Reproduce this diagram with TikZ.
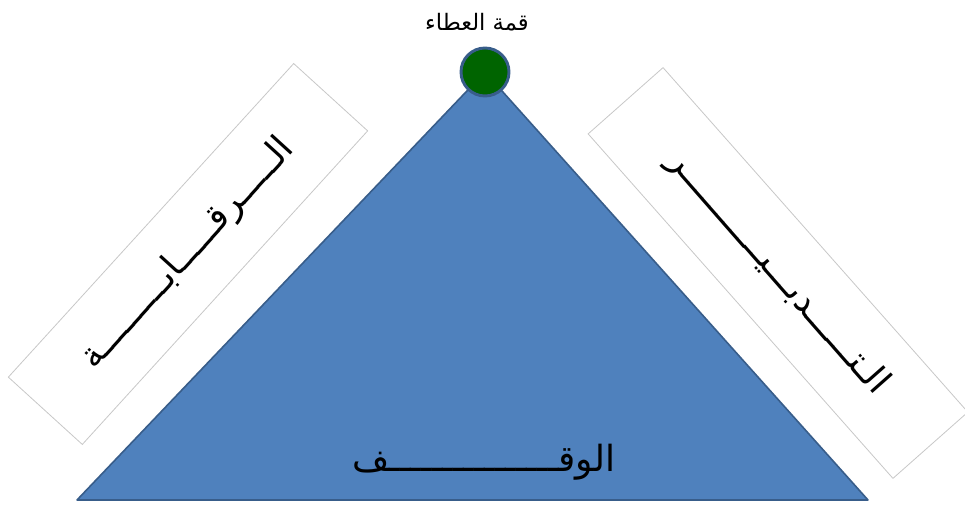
\documentclass[tikz,border=0pt]{standalone}
\usepackage{fontspec}
\TeXXeTstate=1
\newfontfamily\arabicfont[Script=Arabic]{DejaVu Sans}
\definecolor{triblue}{HTML}{4F81BD}
\definecolor{triedge}{HTML}{385D8A}
\definecolor{topgreen}{HTML}{006400}
\definecolor{boxgray}{HTML}{C8C8C8}
\begin{document}
\begin{tikzpicture}[x=0.75pt,y=-0.75pt,
  sidebox/.style={draw=boxgray, line width=0.6pt, fill=white, inner sep=0pt,
    minimum height=75pt, font=\arabicfont\fontsize{27}{30}\selectfont},
  bigtext/.style={inner sep=0pt, font=\arabicfont\fontsize{27}{30}\selectfont},
  toptext/.style={inner sep=0pt, font=\arabicfont\fontsize{17}{20}\selectfont}]
\useasboundingbox (0,0) rectangle (965,506);
\node[sidebox, minimum width=318pt, rotate=47.7] (raqaba) at (188,254)
  {\beginR الـــــرقـــــابـــــــــة\endR};
\node[sidebox, minimum width=345pt, rotate=-48.5] (tadbir) at (778,273)
  {\beginR الـتــــــدبـــيـــــــــــر\endR};
\coordinate (apex) at (485,72);
\coordinate (bl) at (77,500);
\coordinate (br) at (868,500);
\draw[fill=triblue, draw=triedge, line width=1.2pt, line join=round] (apex) -- (br) -- (bl) -- cycle;
\node[circle, fill=topgreen, draw=triedge, line width=2.2pt, minimum size=36pt, inner sep=0pt] (peak) at (apex) {};
\node[toptext] (ata) at (477,22) {\beginR قمة العطاء\endR};
\node[bigtext] (waqf) at (484,462) {\beginR الوقــــــــــــــــف\endR};
\end{tikzpicture}
\end{document}
